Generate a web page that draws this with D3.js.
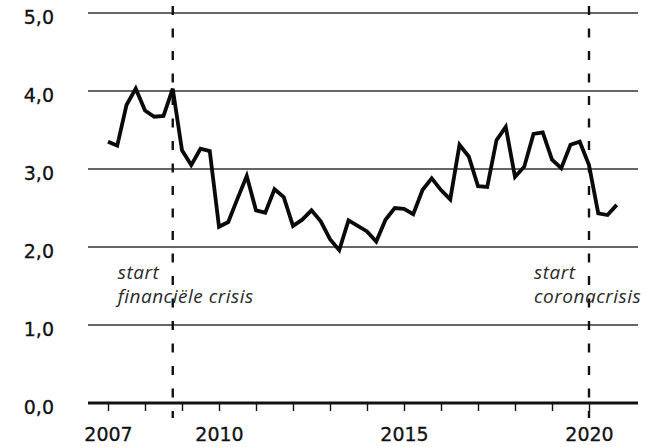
<!DOCTYPE html>
<html>
<head>
<meta charset="utf-8">
<script src="https://cdn.jsdelivr.net/npm/d3@7"></script>
<style>
  html, body { margin: 0; padding: 0; background: #fff; }
  svg { display: block; }
</style>
</head>
<body>
<svg id="chart" width="647" height="447"></svg>
<script>
// ---- data ----
const quarters = [
  "2007-Q1","2007-Q2","2007-Q3","2007-Q4",
  "2008-Q1","2008-Q2","2008-Q3","2008-Q4",
  "2009-Q1","2009-Q2","2009-Q3","2009-Q4",
  "2010-Q1","2010-Q2","2010-Q3","2010-Q4",
  "2011-Q1","2011-Q2","2011-Q3","2011-Q4",
  "2012-Q1","2012-Q2","2012-Q3","2012-Q4",
  "2013-Q1","2013-Q2","2013-Q3","2013-Q4",
  "2014-Q1","2014-Q2","2014-Q3","2014-Q4",
  "2015-Q1","2015-Q2","2015-Q3","2015-Q4",
  "2016-Q1","2016-Q2","2016-Q3","2016-Q4",
  "2017-Q1","2017-Q2","2017-Q3","2017-Q4",
  "2018-Q1","2018-Q2","2018-Q3","2018-Q4",
  "2019-Q1","2019-Q2","2019-Q3","2019-Q4",
  "2020-Q1","2020-Q2","2020-Q3","2020-Q4"
];
const values = [
  3.35, 3.30, 3.82, 4.03,
  3.75, 3.67, 3.68, 4.03,
  3.24, 3.05, 3.26, 3.23,
  2.26, 2.32, 2.62, 2.91,
  2.47, 2.44, 2.74, 2.64,
  2.27, 2.35, 2.47, 2.33,
  2.10, 1.96, 2.34, 2.27,
  2.20, 2.07, 2.35, 2.50,
  2.49, 2.42, 2.73, 2.88,
  2.73, 2.61, 3.31, 3.16,
  2.78, 2.77, 3.37, 3.54,
  2.90, 3.03, 3.45, 3.47,
  3.12, 3.01, 3.31, 3.35,
  3.05, 2.43, 2.41, 2.54
];
const yTicks = [0, 1, 2, 3, 4, 5];
const yearTicks = [2007,2008,2009,2010,2011,2012,2013,2014,2015,2016,2017,2018,2019,2020];
const yearLabels = [2007, 2010, 2015, 2020];
const events = [
  { date: "2008-Q4", lines: ["start", "financiële crisis"] },
  { date: "2020-Q1", lines: ["start", "coronacrisis"] }
];

// ---- helpers ----
const qToYear = q => { const [y, k] = q.split("-Q"); return +y + (+k - 1) / 4; };

// ---- scales ----
const x = d3.scaleLinear().domain([2007, 2020]).range([108, 589]);
const y = d3.scaleLinear().domain([0, 5]).range([403, 13]);
const gridX0 = 88, gridX1 = 638;

const svg = d3.select("#chart");

// grid lines
svg.append("g").selectAll("line")
  .data(yTicks.filter(d => d !== 0))
  .join("line")
  .attr("x1", gridX0).attr("x2", gridX1)
  .attr("y1", d => y(d)).attr("y2", d => y(d))
  .attr("stroke", "#333").attr("stroke-width", 1.4);

// y labels
const yAxis = svg.append("g")
  .attr("transform", "translate(54,0)")
  .call(d3.axisLeft(y).tickValues(yTicks).tickSize(0).tickPadding(0)
    .tickFormat(d => d3.format(".1f")(d).replace(".", ",")));
yAxis.select(".domain").remove();
yAxis.selectAll("text")
  .attr("dy", "0.55em")
  .attr("font-family", "DejaVu Sans, sans-serif")
  .attr("font-size", 19)
  .attr("fill", "#111")
  .attr("stroke", "#111").attr("stroke-width", 0.3);

// x axis
const xAxis = svg.append("g")
  .attr("transform", `translate(0,${y(0)})`)
  .call(d3.axisBottom(x).tickValues(yearTicks).tickSize(8).tickPadding(0)
    .tickFormat(d => yearLabels.includes(d) ? String(d) : ""));
xAxis.select(".domain").remove();
xAxis.selectAll(".tick line").attr("stroke", "#111").attr("stroke-width", 1.4);
xAxis.selectAll("text")
  .attr("y", 38).attr("dy", 0)
  .attr("font-family", "DejaVu Sans, sans-serif")
  .attr("font-size", 19)
  .attr("fill", "#111")
  .attr("stroke", "#111").attr("stroke-width", 0.3);
xAxis.append("line")
  .attr("x1", gridX0).attr("x2", gridX1)
  .attr("y1", 0).attr("y2", 0)
  .attr("stroke", "#111").attr("stroke-width", 2.8);

// event dashed lines + labels
events.forEach(ev => {
  const ex = x(qToYear(ev.date));
  svg.append("line")
    .attr("x1", ex).attr("x2", ex)
    .attr("y1", 6).attr("y2", 418)
    .attr("stroke", "#111").attr("stroke-width", 2.4)
    .attr("stroke-dasharray", "9,13.5");
  const t = svg.append("text")
    .attr("font-family", "Open Sans, sans-serif")
    .attr("font-style", "italic")
    .attr("font-size", 19)
    .attr("letter-spacing", 0.5)
    .attr("fill", "#2a2a2a");
  ev.lines.forEach((ln, i) => {
    t.append("tspan")
      .attr("x", ex - 55)
      .attr("y", 279 + i * 24)
      .text(ln);
  });
});

// data line
const line = d3.line()
  .x((d, i) => x(qToYear(quarters[i])))
  .y(d => y(d));
svg.append("path")
  .datum(values)
  .attr("d", line)
  .attr("fill", "none")
  .attr("stroke", "#0a0a0a")
  .attr("stroke-width", 3.8)
  .attr("stroke-linejoin", "miter")
  .attr("stroke-miterlimit", 4);
</script>
</body>
</html>
